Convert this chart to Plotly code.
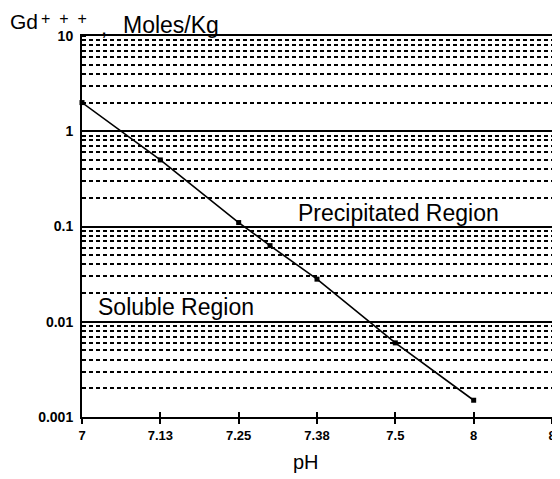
import plotly.graph_objects as go

# Data
ph_values = [7.0, 7.125, 7.25, 7.3, 7.375, 7.5, 7.625]
gd_conc = [2.0, 0.5, 0.11, 0.063, 0.028, 0.006, 0.0015]

x_tick_vals = [7.0, 7.125, 7.25, 7.375, 7.5, 7.625, 7.75]
x_tick_text = ["7", "7.13", "7.25", "7.38", "7.5", "8", "8"]
y_tick_vals = [0.001, 0.01, 0.1, 1, 10]
y_tick_text = ["0.001", "0.01", "0.1", "1", "10"]

FONT = "Liberation Sans, Arial, sans-serif"

# page body has an 8px margin; figure sized so the page is 560x479
W, H = 552, 471
L, R, T, B = 74, 4, 28, 62
PW, PH = W - L - R, H - T - B


def px(xp):
    # page x pixel -> paper fraction
    return (xp - 8 - L) / PW


def py(yp):
    # page y pixel -> paper fraction
    return (H - B - (yp - 8)) / PH


fig = go.Figure()
fig.add_trace(go.Scatter(
    x=ph_values, y=gd_conc, mode="lines+markers",
    line=dict(color="black", width=1.6),
    marker=dict(symbol="square", size=5, color="black"),
    showlegend=False, cliponaxis=False,
))
fig.add_trace(go.Scatter(x=ph_values, y=gd_conc, xaxis="x2", mode="none",
                         showlegend=False, hoverinfo="skip"))

fig.update_layout(
    width=W, height=H,
    margin=dict(l=L, r=R, t=T, b=B),
    paper_bgcolor="white", plot_bgcolor="white",
    font=dict(family=FONT, color="black"),
    xaxis=dict(
        range=[7.0, 7.75], tickvals=x_tick_vals,
        ticktext=["<b>%s</b>" % t for t in x_tick_text],
        tickfont=dict(size=13, family=FONT), ticks="outside", ticklen=5,
        tickwidth=1.5, tickcolor="black",
        showline=True, linecolor="black", linewidth=2, mirror=True,
        showgrid=False, zeroline=False,
    ),
    xaxis2=dict(
        range=[7.0, 7.75], tickvals=x_tick_vals, overlaying="x",
        showticklabels=False, ticks="inside", ticklen=5, tickwidth=1.5,
        tickcolor="black", showgrid=False, zeroline=False, showline=False,
        side="bottom",
    ),
    yaxis=dict(
        type="log", range=[-3, 1], tickvals=y_tick_vals,
        ticktext=["<b>%s</b>" % t for t in y_tick_text],
        tickfont=dict(size=14, family=FONT), ticks="", ticklabelstandoff=4,
        showline=True, linecolor="black", linewidth=2, mirror=True,
        showgrid=True, gridcolor="black", gridwidth=1.5,
        zeroline=False,
        minor=dict(dtick="D1", showgrid=True, gridcolor="black",
                   gridwidth=1.6, griddash="4px,3px", ticks="inside",
                   ticklen=4, tickcolor="black"),
    ),
    annotations=[
        dict(text="Gd", xref="paper", yref="paper",
             x=px(7), y=py(22), xanchor="left", yanchor="middle",
             showarrow=False, font=dict(size=21, family=FONT)),
        dict(text="+&nbsp;&nbsp;+&nbsp;&nbsp;+", xref="paper", yref="paper",
             x=px(64), y=py(19), xanchor="center", yanchor="middle",
             showarrow=False, font=dict(size=16, family=FONT)),
        dict(text=",", xref="paper", yref="paper",
             x=px(104), y=py(28), xanchor="center", yanchor="middle",
             showarrow=False, font=dict(size=22, family=FONT)),
        dict(text="Moles/Kg", xref="paper", yref="paper",
             x=px(121), y=py(25), xanchor="left", yanchor="middle",
             showarrow=False, font=dict(size=23, family=FONT)),
        dict(text="pH", xref="paper", yref="paper",
             x=px(308), y=py(462), xanchor="center", yanchor="middle",
             showarrow=False, font=dict(size=20, family=FONT)),
        dict(text="Precipitated Region", xref="paper", yref="paper",
             x=px(401), y=py(213), xanchor="center", yanchor="middle",
             showarrow=False, font=dict(size=23, family=FONT)),
        dict(text="Soluble Region", xref="paper", yref="paper",
             x=px(177), y=py(307), xanchor="center", yanchor="middle",
             showarrow=False, font=dict(size=23, family=FONT)),
    ],
)

fig.write_html("out.html")
